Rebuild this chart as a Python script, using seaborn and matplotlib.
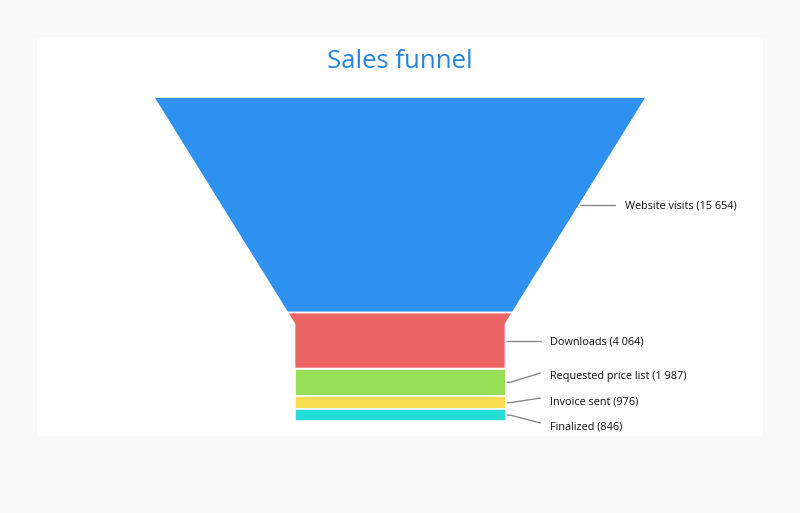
import numpy as np
import seaborn as sns
import matplotlib.pyplot as plt

stages = ["Website visits", "Downloads", "Requested price list", "Invoice sent", "Finalized"]
counts = [15654, 4064, 1987, 976, 846]
stage_colors = ["#2f91ef", "#ec6464", "#98e057", "#f8dc4f", "#22dcd5"]

sns.set_theme(style="white")
plt.rcParams['font.family'] = ['Open Sans', 'DejaVu Sans']

fig = plt.figure(figsize=(8, 5.13), dpi=100)
fig.patch.set_facecolor("#f9f9f9")
ax = fig.add_axes([37 / 800, (513 - 436) / 513, 726 / 800, 399 / 513])
ax.set_facecolor("white")
ax.set_xlim(37, 763)
ax.set_ylim(436, 37)
ax.set_xticks([])
ax.set_yticks([])
sns.despine(ax=ax, left=True, bottom=True)

# funnel geometry
cx, top, height = 400, 97, 324
width, neck_w, neck_h = 493, 211, 97
neck_y = top + height - neck_h


def half_w(y):
    if y >= neck_y:
        return neck_w / 2
    return width / 2 - (width / 2 - neck_w / 2) * (y - top) / (neck_y - top)


def fmt(v):
    return "{:,}".format(v).replace(",", " ")


def spread(targets, gap):
    groups = [[i] for i in range(len(targets))]

    def place(g):
        m = np.mean([targets[i] for i in g])
        n = len(g)
        return [m + (k - (n - 1) / 2) * gap for k in range(n)]

    merged = True
    while merged:
        merged = False
        for k in range(len(groups) - 1):
            if place(groups[k])[-1] + gap > place(groups[k + 1])[0]:
                groups[k] = groups[k] + groups.pop(k + 1)
                merged = True
                break
    out = []
    for g in groups:
        out += place(g)
    return out


vals = np.array(counts, dtype=float)
edges = top + np.concatenate([[0], np.cumsum(vals)]) / vals.sum() * height

centers = []
for i, (y0, y1) in enumerate(zip(edges[:-1], edges[1:])):
    ys = [y0] + ([neck_y] if y0 < neck_y < y1 else []) + [y1]
    xs_l = [cx - half_w(y) for y in ys]
    xs_r = [cx + half_w(y) for y in ys][::-1]
    ax.fill(xs_l + xs_r, ys + ys[::-1], color=stage_colors[i], ec="white", lw=1.2, zorder=2)
    centers.append((y0 + y1) / 2)

pos = spread(centers, 25)

for i, (c, ly) in enumerate(zip(centers, pos)):
    ex = cx + half_w(c)
    end_y = c if abs(ly - c) < 1 else ly - 2
    ax.plot([ex, ex + 5, ex + 35], [c, c, end_y], color="#888888", lw=1, zorder=1)
    ax.text(ex + 45, ly + 1.5, f"{stages[i]} ({fmt(counts[i])})", fontsize=7.8, color="#111111",
            va="center", ha="left")

ax.text(400, 61, "Sales funnel", fontsize=18.5, color="#2385e0", ha="center", va="center")

fig.savefig("out.png", dpi=100, facecolor=fig.get_facecolor())
